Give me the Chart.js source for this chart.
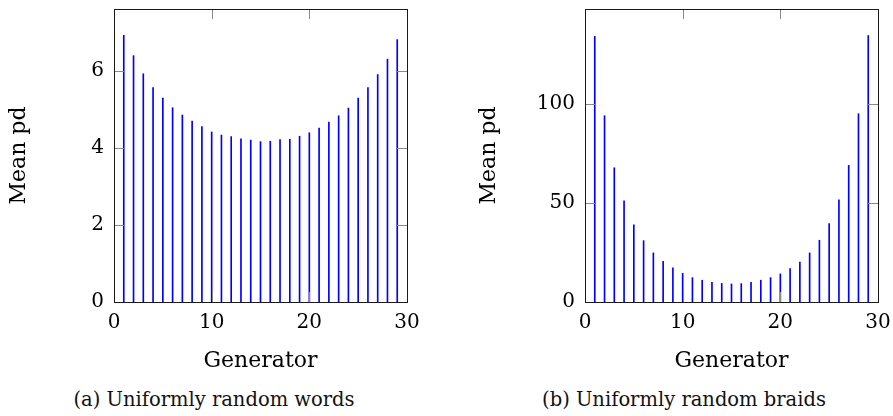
<!DOCTYPE html>
<html>
<head>
<meta charset="utf-8">
<script src="https://cdn.jsdelivr.net/npm/chart.js@4.4.1/dist/chart.umd.min.js"></script>
<style>
    body { margin: 0; background: #fff; width: 893px; height: 416px; position: relative; overflow: hidden; }
    .panel { position: absolute; top: 0; }
    .caption { position: absolute; top: 390px; font-family: "DejaVu Serif", serif; font-size: 19.5px; line-height: 20px; color: #111; white-space: nowrap; transform: translateX(-50%); }
</style>
</head>
<body>
<div class="panel" style="left:0"><canvas id="wordsChart" width="446" height="382"></canvas></div>
<div class="panel" style="left:446px"><canvas id="braidsChart" width="447" height="382"></canvas></div>
<div class="caption" style="left:214px">(a) Uniformly random words</div>
<div class="caption" style="left:684px">(b) Uniformly random braids</div>
<script>
// Data
const generators = [1, 2, 3, 4, 5, 6, 7, 8, 9, 10, 11, 12, 13, 14, 15, 16, 17, 18, 19, 20, 21, 22, 23, 24, 25, 26, 27, 28, 29];
const wordsMeanPd = [6.92, 6.39, 5.92, 5.56, 5.29, 5.04, 4.85, 4.69, 4.55, 4.41, 4.33, 4.29, 4.23, 4.20, 4.16,
    4.17, 4.21, 4.22, 4.30, 4.39, 4.51, 4.67, 4.83, 5.03, 5.29, 5.56, 5.90, 6.30, 6.81];
const braidsMeanPd = [134.2, 94.1, 67.8, 51.1, 39.0, 31.0, 24.8, 20.6, 17.2, 14.5, 12.3, 11.0, 9.9, 9.4, 9.1,
    9.3, 9.9, 11.0, 12.3, 14.2, 16.9, 20.2, 24.8, 31.2, 39.6, 51.6, 69.0, 95.1, 134.6];
const xTicks = [0, 10, 20, 30];
const wordsYTicks = [0, 2, 4, 6];
const braidsYTicks = [0, 50, 100];

const serif = "'DejaVu Serif', serif";

// box around the plot plus inward ticks on all four sides (pgfplots style)
const frame = {
    id: 'frame',
    afterDatasetsDraw(chart) {
        const ctx = chart.ctx;
        const a = chart.chartArea;
        const xs = chart.scales.x, ys = chart.scales.y;
        const len = 10;
        ctx.save();
        ctx.strokeStyle = '#888';
        ctx.lineWidth = 1;
        ctx.beginPath();
        xs.ticks.forEach(function(t) {
            const px = Math.round(xs.getPixelForValue(t.value)) + 0.5;
            ctx.moveTo(px, a.bottom); ctx.lineTo(px, a.bottom - len);
            ctx.moveTo(px, a.top); ctx.lineTo(px, a.top + len);
        });
        ys.ticks.forEach(function(t) {
            const py = Math.round(ys.getPixelForValue(t.value)) + 0.5;
            ctx.moveTo(a.left, py); ctx.lineTo(a.left + len, py);
            ctx.moveTo(a.right, py); ctx.lineTo(a.right - len, py);
        });
        ctx.stroke();
        ctx.strokeStyle = '#1a1a1a';
        ctx.strokeRect(Math.round(a.left) + 0.5, Math.round(a.top) + 0.5,
            Math.round(a.right - a.left), Math.round(a.bottom - a.top));
        ctx.restore();
    }
};

function makeChart(id, values, yTicks, yMax, yAxisWidth, titlePad, padRight) {
    return new Chart(document.getElementById(id), {
        type: 'bar',
        data: {
            datasets: [{
                data: generators.map((g, i) => ({ x: g, y: values[i] })),
                backgroundColor: '#0000ff',
                borderWidth: 0,
                barThickness: 1
            }]
        },
        options: {
            responsive: false,
            animation: false,
            devicePixelRatio: 1,
            layout: { padding: { top: 9, right: padRight, left: 0, bottom: 0 } },
            plugins: { legend: { display: false }, tooltip: { enabled: false } },
            scales: {
                x: {
                    type: 'linear',
                    offset: false,
                    min: 0,
                    max: 30,
                    afterBuildTicks: s => { s.ticks = xTicks.map(v => ({ value: v })); },
                    afterFit: s => { s.height = 80; s.paddingLeft = 0; s.paddingRight = 0; },
                    grid: { display: false, drawTicks: false },
                    border: { display: false },
                    ticks: { color: '#000', padding: 9, font: { family: serif, size: 20 } },
                    title: { display: true, text: 'Generator', color: '#000', padding: { top: 0, bottom: 8 },
                        font: { family: serif, size: 22 } }
                },
                y: {
                    min: 0,
                    max: yMax,
                    afterBuildTicks: s => { s.ticks = yTicks.map(v => ({ value: v })); },
                    afterFit: s => { s.width = yAxisWidth; s.paddingTop = 0; s.paddingBottom = 0; },
                    grid: { display: false, drawTicks: false },
                    border: { display: false },
                    ticks: { color: '#000', padding: 10, font: { family: serif, size: 20 } },
                    title: { display: true, text: 'Mean pd', color: '#000', padding: { top: titlePad, bottom: 0 },
                        font: { family: serif, size: 22 } }
                }
            }
        },
        plugins: [frame]
    });
}

makeChart('wordsChart', wordsMeanPd, wordsYTicks, 7.6, 114, 6, 39);
makeChart('braidsChart', braidsMeanPd, braidsYTicks, 148, 139, 30, 15);
</script>
</body>
</html>
